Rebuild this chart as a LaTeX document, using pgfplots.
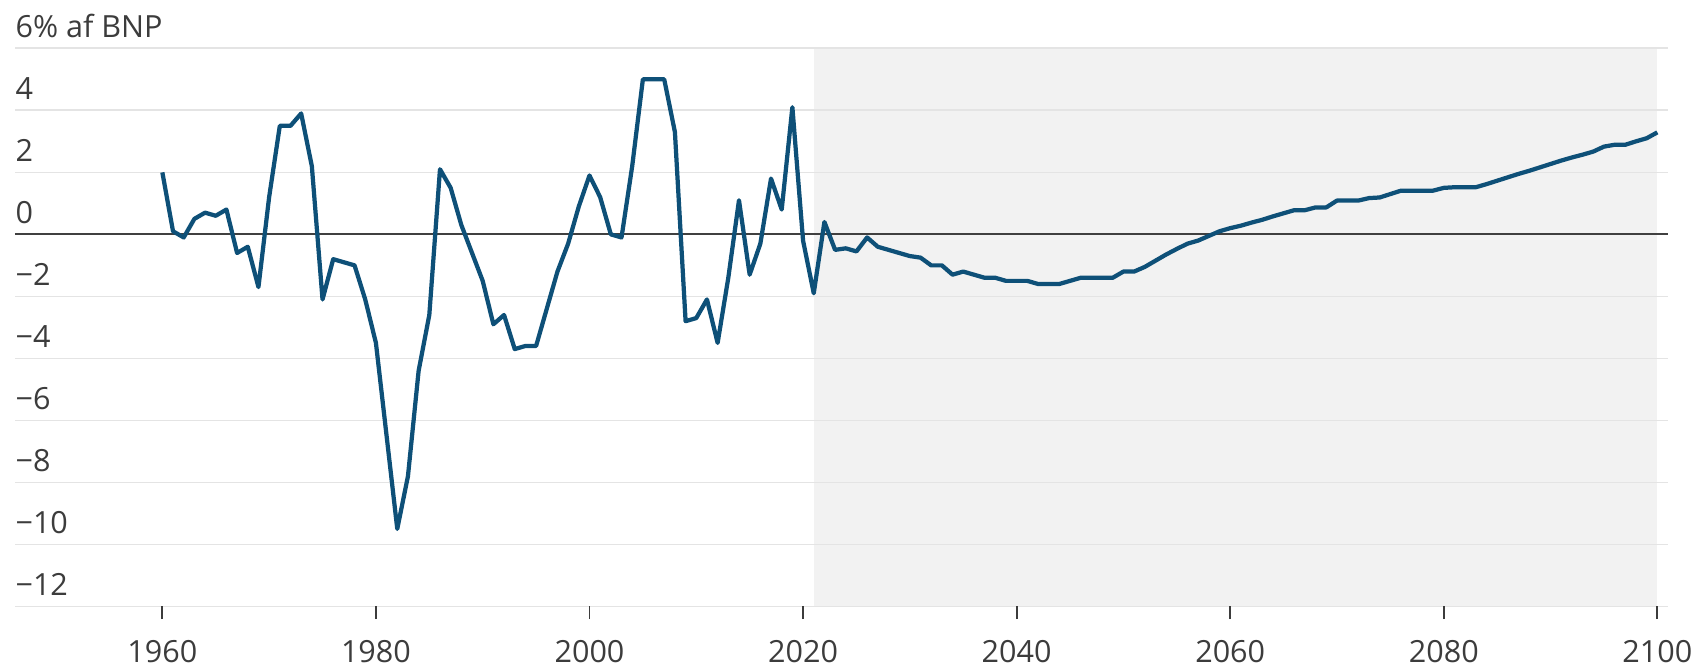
\documentclass[border=0pt]{standalone}
\usepackage{fontspec}
\setmainfont{Open Sans}
\usepackage{pgfplots}
\pgfplotsset{compat=1.18}
\usepackage{pgfplotstable}

\definecolor{lineblue}{RGB}{14,80,120}
\definecolor{shadegray}{RGB}{242,242,242}
\definecolor{gridgray}{RGB}{228,228,228}
\definecolor{labelgray}{RGB}{60,60,60}

% offentlig saldo, % af BNP (historik til 2020, fremskrivning fra 2021)
\pgfplotstableread{
year val
1960 2.0
1961 0.1
1962 -0.1
1963 0.5
1964 0.7
1965 0.6
1966 0.8
1967 -0.6
1968 -0.4
1969 -1.7
1970 1.2
1971 3.5
1972 3.5
1973 3.9
1974 2.2
1975 -2.1
1976 -0.8
1977 -0.9
1978 -1.0
1979 -2.1
1980 -3.5
1981 -6.5
1982 -9.5
1983 -7.8
1984 -4.4
1985 -2.6
1986 2.1
1987 1.5
1988 0.3
1989 -0.6
1990 -1.5
1991 -2.9
1992 -2.6
1993 -3.7
1994 -3.6
1995 -3.6
1996 -2.4
1997 -1.2
1998 -0.3
1999 0.9
2000 1.9
2001 1.2
2002 0.0
2003 -0.1
2004 2.2
2005 5.0
2006 5.0
2007 5.0
2008 3.3
2009 -2.8
2010 -2.7
2011 -2.1
2012 -3.5
2013 -1.4
2014 1.1
2015 -1.3
2016 -0.3
2017 1.8
2018 0.8
2019 4.1
2020 -0.2
2021 -1.9
2022 0.4
2023 -0.5
2024 -0.45
2025 -0.55
2026 -0.1
2027 -0.4
2028 -0.5
2029 -0.6
2030 -0.7
2031 -0.75
2032 -1.0
2033 -1.0
2034 -1.3
2035 -1.2
2036 -1.3
2037 -1.4
2038 -1.4
2039 -1.5
2040 -1.5
2041 -1.5
2042 -1.6
2043 -1.6
2044 -1.6
2045 -1.5
2046 -1.4
2047 -1.4
2048 -1.4
2049 -1.4
2050 -1.2
2051 -1.2
2052 -1.05
2053 -0.85
2054 -0.65
2055 -0.47
2056 -0.3
2057 -0.2
2058 -0.05
2059 0.1
2060 0.2
2061 0.28
2062 0.38
2063 0.47
2064 0.58
2065 0.68
2066 0.78
2067 0.78
2068 0.87
2069 0.87
2070 1.09
2071 1.09
2072 1.09
2073 1.17
2074 1.19
2075 1.3
2076 1.41
2077 1.41
2078 1.41
2079 1.41
2080 1.5
2081 1.52
2082 1.52
2083 1.52
2084 1.62
2085 1.73
2086 1.84
2087 1.95
2088 2.05
2089 2.16
2090 2.27
2091 2.38
2092 2.48
2093 2.57
2094 2.67
2095 2.83
2096 2.89
2097 2.89
2098 3.0
2099 3.1
2100 3.29
}\saldo

\begin{document}
\begin{tikzpicture}
  \begin{axis}[
      set layers,
      scale only axis,
      width=584.7pt, height=197.4pt,
      xmin=1946.2, xmax=2101,
      ymin=-12, ymax=6,
      axis line style={draw=none},
      ymajorgrids,
      grid style={gridgray, line width=0.6pt},
      xtick={1960,1980,...,2100},
      xticklabel style={/pgf/number format/1000 sep={}, yshift=-4pt},
      ytick={-12,-10,...,6},
      yticklabels={−12,−10,−8,−6,−4,−2,0,2,4,6\% af BNP},
      yticklabel style={anchor=base west, inner sep=0pt, xshift=4.5pt, yshift=4pt},
      ytick style={draw=none},
      xtick pos=bottom,
      tick align=outside,
      major tick length=4.5pt,
      xtick style={labelgray, line width=0.7pt},
      tick label style={font=\fontsize{10.8}{13}\selectfont, text=labelgray},
      /pgf/number format/assume math mode=true,
      clip=false,
    ]
    \begin{pgfonlayer}{axis background}
      \fill[shadegray] (axis cs:2021,-12) rectangle (axis cs:2100,6);
    \end{pgfonlayer}
    \draw[black!75, line width=0.75pt] (axis cs:1946.2,0) -- (axis cs:2101,0);
    \addplot[lineblue, line width=1.5pt, line join=round] table[x=year, y=val] {\saldo};
  \end{axis}
  \pgfresetboundingbox
  \useasboundingbox (-5.3pt,-21.1pt) rectangle (594.6pt,214.5pt);
\end{tikzpicture}
\end{document}
